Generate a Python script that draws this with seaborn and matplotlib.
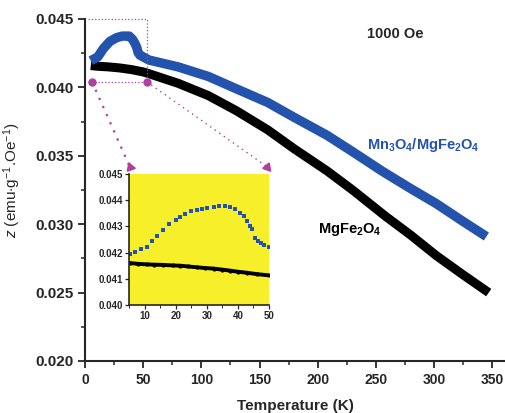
import numpy as np
import pandas as pd
import matplotlib
matplotlib.use("Agg")
import matplotlib.pyplot as plt
import seaborn as sns
from matplotlib.ticker import MultipleLocator

# ---- data ----
t_comp = [5, 11, 16, 21.5, 27, 32, 38, 41, 43, 44.6, 45.6, 47.3, 50, 55, 80, 106, 130, 157,
          180, 208, 230, 255, 280, 302, 325, 345]
z_comp = [0.04195, 0.04223, 0.04286, 0.04337, 0.04363, 0.04375, 0.04375, 0.0435, 0.0432,
          0.0429, 0.04255, 0.04235, 0.04223, 0.0420, 0.0415, 0.0408, 0.0399, 0.0389,
          0.0378, 0.0365, 0.0353, 0.0339, 0.0326, 0.0315, 0.0302, 0.0291]

t_mgfe = [5, 10, 20, 30, 40, 50, 55, 80, 106, 130, 157, 180, 208, 230, 258, 280, 302, 325, 347]
z_mgfe = [0.0416, 0.04155, 0.0415, 0.04142, 0.0413, 0.04113, 0.0410, 0.0403, 0.0394, 0.0383,
          0.0369, 0.0355, 0.0339, 0.0325, 0.0306, 0.0292, 0.0277, 0.0263, 0.0250]

# inset (dense points, 5-50 K)
ti_comp = [5.3, 7, 9, 10.7, 12.5, 14, 16, 18, 20, 21.5, 23, 25, 26.8, 28.5, 30, 32.2, 34, 36,
           37.6, 39, 40.8, 42, 43, 44, 44.6, 45.6, 46.5, 47.3, 48.5, 50]
zi_comp = [0.04195, 0.04203, 0.04213, 0.04223, 0.04243, 0.04262, 0.04286, 0.04308, 0.04325,
           0.04337, 0.04348, 0.04357, 0.04363, 0.04368, 0.04372, 0.04375, 0.04376, 0.04376,
           0.04375, 0.04366, 0.0435, 0.04338, 0.0432, 0.04302, 0.0429, 0.04255, 0.04243,
           0.04235, 0.04228, 0.04223]
ti_mgfe = [5.3, 8, 10.7, 13, 16, 19, 21.5, 24, 26.8, 29.5, 32.2, 35, 37.6, 40, 43, 46, 50]
zi_mgfe = [0.0416, 0.04157, 0.04155, 0.04154, 0.04153, 0.04151, 0.0415, 0.04147, 0.04144,
           0.04141, 0.04139, 0.04135, 0.04131, 0.04127, 0.04123, 0.04118, 0.04113]

BLUE = "#2453ad"
MAG = "#b03fa0"

sns.set_style("ticks")
plt.rcParams["font.family"] = ["Liberation Sans", "DejaVu Sans"]
plt.rcParams["mathtext.fontset"] = "custom"
plt.rcParams["mathtext.rm"] = "Liberation Sans"
plt.rcParams["mathtext.it"] = "Liberation Sans:italic"
plt.rcParams["mathtext.bf"] = "Liberation Sans:bold"

fig = plt.figure(figsize=(5.06, 4.13), dpi=100)
ax = fig.add_axes([85 / 506, 1 - 361 / 413, 420 / 506, 342 / 413])

df_c = pd.DataFrame({"T": t_comp, "z": z_comp})
df_m = pd.DataFrame({"T": t_mgfe, "z": z_mgfe})
sns.lineplot(data=df_m, x="T", y="z", ax=ax, color="black", lw=6.5, solid_capstyle="butt")
sns.lineplot(data=df_c, x="T", y="z", ax=ax, color=BLUE, lw=6.8, solid_capstyle="butt")

ax.set_xlim(0, 361)
ax.set_ylim(0.020, 0.045)
ax.xaxis.set_minor_locator(MultipleLocator(25))
ax.yaxis.set_minor_locator(MultipleLocator(0.0025))
ax.set_xticks(range(0, 351, 50))
ax.set_yticks([0.020, 0.025, 0.030, 0.035, 0.040, 0.045])
ax.set_yticklabels(["0.020", "0.025", "0.030", "0.035", "0.040", "0.045"])
ax.tick_params(which="major", direction="out", length=5, width=1.3, labelsize=11)
ax.tick_params(axis="x", which="major", labelsize=10)
ax.tick_params(which="minor", direction="out", length=3, width=1.1)
for lab in ax.get_xticklabels() + ax.get_yticklabels():
    lab.set_fontweight("bold")
for s in ["top", "right"]:
    ax.spines[s].set_visible(False)
for s in ["left", "bottom"]:
    ax.spines[s].set_linewidth(1.5)
ax.set_xlabel("Temperature (K)", fontsize=11, fontweight="bold", labelpad=9)
ax.set_ylabel(r"$z$ (emu$\cdot$g$^{-1}$.Oe$^{-1}$)", fontsize=11)
ax.yaxis.set_label_coords(-0.148, 0.53)

# annotations
ax.text(267, 0.0439, "1000 Oe", fontsize=10.5, fontweight="bold", ha="center", va="center")
ax.text(242, 0.0358, r"$\mathbf{Mn_3O_4/MgFe_2O_4}$", color=BLUE, fontsize=10.5, va="center")
ax.text(200, 0.0296, r"$\mathbf{MgFe_2O_4}$", color="black", fontsize=10.5, va="center")

# zoom rectangle and connectors
rx0, rx1, ry0, ry1 = 3, 53, 0.04042, 0.045
ax.plot([rx0, rx1, rx1], [ry1, ry1, ry0], ls=":", color=MAG, lw=0.9, clip_on=False)
ax.plot([rx0, rx1], [ry0, ry0], ls=":", color=MAG, lw=0.9)
ax.plot([6, 53], [ry0, ry0], "o", color=MAG, ms=5, clip_on=False)
ax.plot([6, 38.5], [ry0, 0.0342], ls=(0, (1, 3)), color=MAG, lw=1.6)
ax.plot([53, 156.5], [ry0, 0.0342], ls=(0, (1, 3)), color=MAG, lw=1.0)
ax.plot([38.5], [0.0342], marker=(3, 0, 20), color=MAG, ms=7)
ax.plot([156.5], [0.0342], marker=(3, 0, -20), color=MAG, ms=7)

# inset
ins = fig.add_axes([129 / 506, 1 - 305 / 413, 140 / 506, 131 / 413])
ins.set_facecolor("#f7ef2a")
di_c = pd.DataFrame({"T": ti_comp, "z": zi_comp})
di_m = pd.DataFrame({"T": ti_mgfe, "z": zi_mgfe})
sns.lineplot(data=di_m, x="T", y="z", ax=ins, color="black", lw=2.8)
sns.scatterplot(data=di_m, x="T", y="z", ax=ins, color="black", s=9, linewidth=0)
sns.scatterplot(data=di_c, x="T", y="z", ax=ins, color=BLUE, s=11, linewidth=0, marker="s")
ins.set_xlim(5, 50)
ins.set_ylim(0.040, 0.045)
ins.xaxis.set_major_locator(MultipleLocator(10))
ins.xaxis.set_minor_locator(MultipleLocator(5))
ins.set_yticks([0.040, 0.041, 0.042, 0.043, 0.044, 0.045])
ins.set_yticklabels(["0.040", "0.041", "0.042", "0.043", "0.044", "0.045"])
ins.tick_params(which="major", direction="out", length=3, width=0.9, labelsize=7, pad=1.5)
ins.tick_params(which="minor", direction="out", length=2, width=0.7)
for lab in ins.get_xticklabels() + ins.get_yticklabels():
    lab.set_fontweight("bold")
ins.set_xlabel("")
ins.set_ylabel("")
for s in ["top", "right"]:
    ins.spines[s].set_visible(False)
for s in ["left", "bottom"]:
    ins.spines[s].set_linewidth(1.2)

fig.savefig("out.png", dpi=100)
